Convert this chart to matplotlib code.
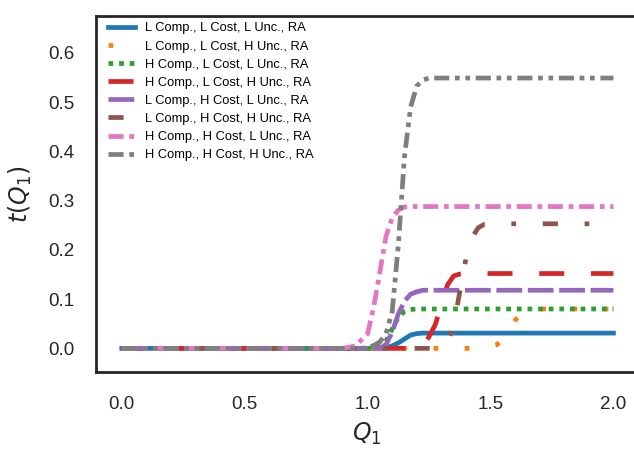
import matplotlib
matplotlib.use("Agg")
import matplotlib.pyplot as plt

# shared grid of Q1 values
q1 = [0.0, 0.9, 0.95, 1.0, 1.025, 1.05, 1.075, 1.1, 1.125, 1.15, 1.175, 1.2,
      1.225, 1.25, 1.275, 1.3, 1.325, 1.35, 1.375, 1.4, 1.425, 1.45, 1.475,
      1.5, 1.525, 1.55, 1.575, 1.6, 1.625, 1.65, 1.7, 2.0]

t_lll = [0, 0, 0, 0, 0, 0.001, 0.002, 0.005, 0.011, 0.019, 0.027, 0.030,
         0.031, 0.031, 0.031, 0.031, 0.031, 0.031, 0.031, 0.031, 0.031, 0.031, 0.031,
         0.031, 0.031, 0.031, 0.031, 0.031, 0.031, 0.031, 0.031, 0.031]
t_llh = [0, 0, 0, 0, 0, 0, 0, 0, 0, 0, 0, 0,
         0, 0, 0, 0, 0, 0, 0, 0, 0, 0, 0.001,
         0.003, 0.007, 0.018, 0.035, 0.057, 0.071, 0.077, 0.080, 0.080]
t_hll = [0, 0, 0, 0, 0.001, 0.004, 0.015, 0.040, 0.063, 0.075, 0.079, 0.080,
         0.080, 0.080, 0.080, 0.080, 0.080, 0.080, 0.080, 0.080, 0.080, 0.080, 0.080,
         0.080, 0.080, 0.080, 0.080, 0.080, 0.080, 0.080, 0.080, 0.080]
t_hlh = [0, 0, 0, 0, 0, 0, 0, 0, 0, 0, 0, 0,
         0.002, 0.024, 0.048, 0.088, 0.129, 0.147, 0.151, 0.152, 0.152, 0.152, 0.152,
         0.152, 0.152, 0.152, 0.152, 0.152, 0.152, 0.152, 0.152, 0.152]
t_lhl = [0, 0, 0, 0, 0, 0, 0.008, 0.033, 0.070, 0.096, 0.110, 0.115,
         0.118, 0.118, 0.118, 0.118, 0.118, 0.118, 0.118, 0.118, 0.118, 0.118, 0.118,
         0.118, 0.118, 0.118, 0.118, 0.118, 0.118, 0.118, 0.118, 0.118]
t_lhh = [0, 0, 0, 0, 0, 0, 0, 0, 0, 0, 0, 0,
         0, 0, 0, 0.003, 0.012, 0.045, 0.115, 0.182, 0.225, 0.245, 0.252,
         0.253, 0.253, 0.253, 0.253, 0.253, 0.253, 0.253, 0.253, 0.253]
t_hhl = [0, 0, 0.005, 0.030, 0.085, 0.155, 0.228, 0.265, 0.281, 0.287, 0.288, 0.288,
         0.288, 0.288, 0.288, 0.288, 0.288, 0.288, 0.288, 0.288, 0.288, 0.288, 0.288,
         0.288, 0.288, 0.288, 0.288, 0.288, 0.288, 0.288, 0.288, 0.288]
t_hhh = [0, 0, 0, 0.001, 0.006, 0.013, 0.030, 0.075, 0.210, 0.390, 0.490, 0.533,
         0.545, 0.549, 0.549, 0.549, 0.549, 0.549, 0.549, 0.549, 0.549, 0.549, 0.549,
         0.549, 0.549, 0.549, 0.549, 0.549, 0.549, 0.549, 0.549, 0.549]

labels = ["L Comp., L Cost, L Unc., RA", "L Comp., L Cost, H Unc., RA",
          "H Comp., L Cost, L Unc., RA", "H Comp., L Cost, H Unc., RA",
          "L Comp., H Cost, L Unc., RA", "L Comp., H Cost, H Unc., RA",
          "H Comp., H Cost, L Unc., RA", "H Comp., H Cost, H Unc., RA"]
series = [t_lll, t_llh, t_hll, t_hlh, t_lhl, t_lhh, t_hhl, t_hhh]
styles = ["-", (0, (1, 5.6)), (0, (1, 1.25)), (0, (5.3, 5.65)),
          (0, (5.45, 1.2)), (0, (3.2, 5.65, 1, 5.65)), (0, (3.2, 1.2, 1, 1.2)),
          (0, (3.2, 1.2, 1, 1.2, 1, 1.2))]
colors = ["tab:blue", "tab:orange", "tab:green", "tab:red",
          "tab:purple", "tab:brown", "tab:pink", "tab:gray"]

plt.rcParams["font.family"] = ["Liberation Sans", "DejaVu Sans"]
plt.rcParams["mathtext.fontset"] = "dejavusans"

fig = plt.figure(figsize=(6.34, 4.49), dpi=100)
ax = fig.add_axes([96 / 634, 77 / 449, 542 / 634, 356 / 449])

for y, lab, ls, c in zip(series, labels, styles, colors):
    ax.plot(q1, y, linestyle=ls, color=c, lw=3.4, label=lab)

ax.set_xlim(-0.105, 2.1)
ax.set_ylim(-0.048, 0.675)
ax.set_xticks([0.0, 0.5, 1.0, 1.5, 2.0])
ax.set_yticks([0.0, 0.1, 0.2, 0.3, 0.4, 0.5, 0.6])
ax.tick_params(axis="x", length=0, pad=17, labelsize=13.5, labelcolor="#262626")
ax.tick_params(axis="y", length=0, pad=15.5, labelsize=13.5, labelcolor="#262626")
for s in ax.spines.values():
    s.set_color("#262626")
    s.set_linewidth(2)

ax.set_xlabel("$Q_1$", fontsize=17, color="#262626", labelpad=6)
ax.set_ylabel("$t(Q_1)$", fontsize=17, color="#262626", labelpad=10)

ax.legend(loc="upper left", bbox_to_anchor=(0.022, 0.982), frameon=False,
          fontsize=9.3, handlelength=2.1, handletextpad=0.8, labelspacing=0.47,
          borderaxespad=0, borderpad=0)

fig.savefig("out.png", dpi=100)
